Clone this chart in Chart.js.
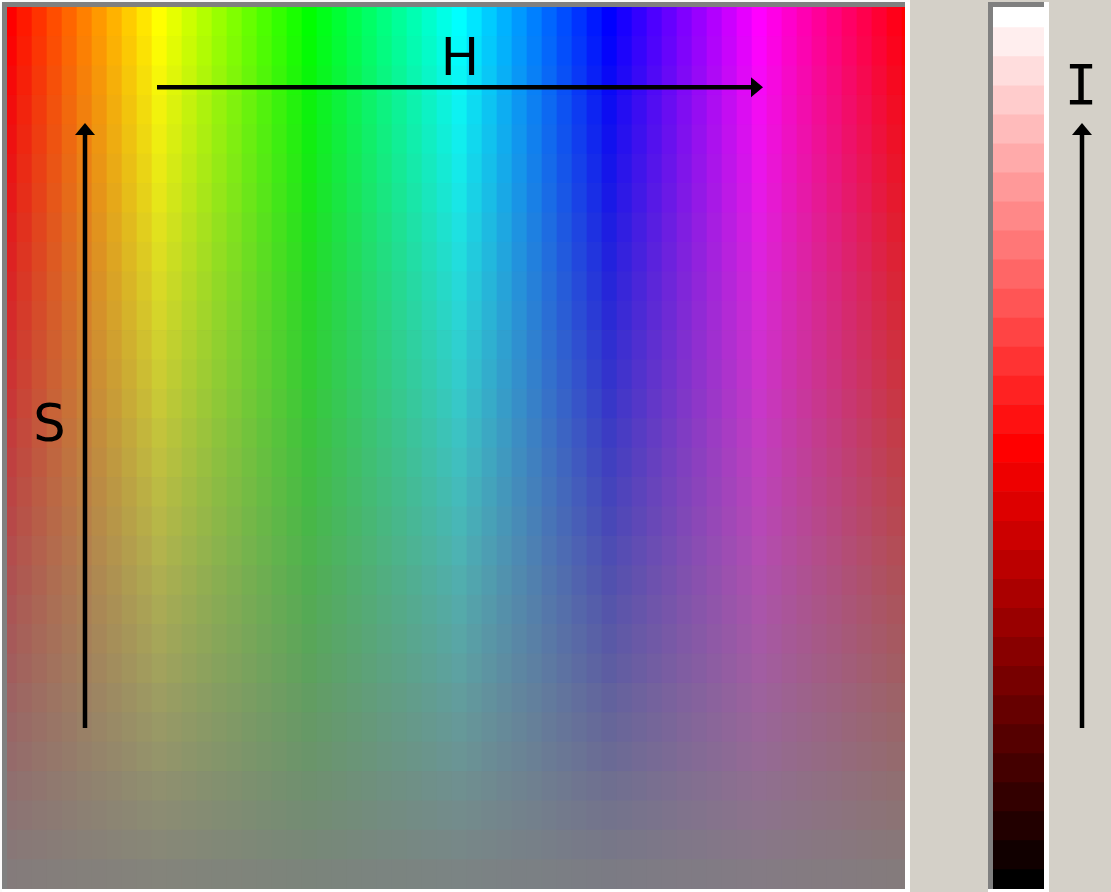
<!DOCTYPE html>
<html><head><meta charset="utf-8">
<script src="https://cdn.jsdelivr.net/npm/chart.js@4.4.1/dist/chart.umd.min.js"></script>
<style>
html,body{margin:0;padding:0;background:#fbfbfb;width:1111px;height:892px;overflow:hidden;position:relative}
.abs{position:absolute}
</style></head><body>
<div class="abs" style="left:2px;top:2px;width:903px;height:887px;background:#808080"></div>
<div class="abs" style="left:905px;top:2px;width:5px;height:890px;background:#ffffff"></div>
<div class="abs" style="left:2px;top:889px;width:908px;height:3px;background:#ffffff"></div>
<div class="abs" style="left:910px;top:0;width:201px;height:892px;background:#d4d0c8"></div>
<div class="abs" style="left:988px;top:2px;width:56px;height:887px;background:#808080"></div>
<div class="abs" style="left:1044px;top:2px;width:5px;height:890px;background:#ffffff"></div>
<div class="abs" style="left:988px;top:889px;width:61px;height:3px;background:#ffffff"></div>
<canvas id="main" class="abs" style="left:7px;top:7px" width="898" height="882"></canvas>
<canvas id="inten" class="abs" style="left:910px;top:0" width="201" height="892"></canvas>
<script>
// Hue columns (degrees)
const hues = [0,6,12,18,24,30,36,42,48,54,60,66,72,78,84,90,96,102,108,114,120,126,132,138,144,150,156,162,168,174,180,186,192,198,204,210,216,222,228,234,240,246,252,258,264,270,276,282,288,294,300,306,312,318,324,330,336,342,348,354,360];
// Saturation rows (% , top edge of each row)
const saturations = [3.33,6.67,10,13.33,16.67,20,23.33,26.67,30,33.33,36.67,40,43.33,46.67,50,53.33,56.67,60,63.33,66.67,70,73.33,76.67,80,83.33,86.67,90,93.33,96.67,100];
// Intensity steps (% lightness) of the red bar, top to bottom
const intensities = [100,96.67,93.33,90,86.67,83.33,80,76.67,73.33,70,66.67,63.33,60,56.67,53.33,50,46.67,43.33,40,36.67,33.33,30,26.67,23.33,20,16.67,13.33,10,6.67,3.33,0];
const barHue = 0;
const mainLightness = 50;
// Axis labels
const axisLabels = {hue: 'H', sat: 'S', intensity: 'I'};

const satStep = saturations[1] - saturations[0];
const intStep = intensities[0] - intensities[1];

function hsl(h, s, l) { return 'hsl(' + h + ',' + s + '%,' + l + '%)'; }

function drawArrow(ctx, x1, y1, x2, y2) {
  const ang = Math.atan2(y2 - y1, x2 - x1);
  const len = 12, half = 10;
  ctx.save();
  ctx.strokeStyle = '#000'; ctx.fillStyle = '#000'; ctx.lineWidth = 4.5;
  ctx.beginPath();
  ctx.moveTo(x1, y1);
  ctx.lineTo(x2 - Math.cos(ang) * len * 0.8, y2 - Math.sin(ang) * len * 0.8);
  ctx.stroke();
  ctx.beginPath();
  ctx.moveTo(x2, y2);
  ctx.lineTo(x2 - Math.cos(ang) * len - Math.sin(ang) * half, y2 - Math.sin(ang) * len + Math.cos(ang) * half);
  ctx.lineTo(x2 - Math.cos(ang) * len + Math.sin(ang) * half, y2 - Math.sin(ang) * len - Math.cos(ang) * half);
  ctx.closePath();
  ctx.fill();
  ctx.restore();
}

const mainDatasets = saturations.map(s => ({
  data: hues.map(h => ({x: h, y: [s - satStep, s]})),
  backgroundColor: hues.map(h => hsl(h, s, mainLightness)),
  borderWidth: 0,
  grouped: false,
  barPercentage: 1,
  categoryPercentage: 1,
  clip: 0
}));

const mainAnnot = {
  id: 'mainAnnot',
  afterDatasetsDraw(chart) {
    const ctx = chart.ctx, xs = chart.scales.x, ys = chart.scales.y;
    // H arrow
    drawArrow(ctx, xs.getPixelForValue(59), ys.getPixelForValue(90.9), xs.getPixelForValue(301.4), ys.getPixelForValue(90.9));
    // S arrow
    drawArrow(ctx, xs.getPixelForValue(30.2), ys.getPixelForValue(18.25), xs.getPixelForValue(30.2), ys.getPixelForValue(86.85));
    ctx.save();
    ctx.fillStyle = '#000';
    ctx.font = '51px "DejaVu Sans"';
    ctx.textAlign = 'center'; ctx.textBaseline = 'middle';
    ctx.fillText(axisLabels.hue, xs.getPixelForValue(180.2), ys.getPixelForValue(93.8));
    ctx.fillText(axisLabels.sat, xs.getPixelForValue(16), ys.getPixelForValue(52.3));
    ctx.restore();
  }
};

new Chart(document.getElementById('main'), {
  type: 'bar',
  data: {datasets: mainDatasets},
  options: {
    responsive: false, animation: false, events: [],
    layout: {padding: 0},
    plugins: {legend: {display: false}, tooltip: {enabled: false}},
    scales: {
      x: {type: 'linear', min: -1, max: 358.2, display: false, offset: false},
      y: {type: 'linear', min: 0, max: 100, display: false}
    }
  },
  plugins: [mainAnnot]
});

const intDatasets = intensities.map(l => ({
  data: [[l - intStep / 2, l + intStep / 2]],
  backgroundColor: hsl(barHue, 100, l),
  borderWidth: 0,
  grouped: false,
  barPercentage: 1,
  categoryPercentage: 1,
  clip: 0
}));

const intAnnot = {
  id: 'intAnnot',
  afterDatasetsDraw(chart) {
    const ctx = chart.ctx, ys = chart.scales.y, area = chart.chartArea;
    const x = area.right + 38;
    drawArrow(ctx, x, ys.getPixelForValue(17.85), x, ys.getPixelForValue(87.3));
    ctx.save();
    ctx.fillStyle = '#000';
    ctx.font = '55px "DejaVu Sans Mono"';
    ctx.textAlign = 'center'; ctx.textBaseline = 'middle';
    ctx.fillText(axisLabels.intensity, x - 1, ys.getPixelForValue(91.1));
    ctx.restore();
  }
};

new Chart(document.getElementById('inten'), {
  type: 'bar',
  data: {labels: [axisLabels.intensity], datasets: intDatasets},
  options: {
    responsive: false, animation: false, events: [],
    layout: {padding: {left: 83, right: 67, top: 7, bottom: 3}},
    plugins: {legend: {display: false}, tooltip: {enabled: false}},
    scales: {
      x: {display: false},
      y: {type: 'linear', min: -0.63, max: 100.63, display: false}
    }
  },
  plugins: [intAnnot]
});
</script>
</body></html>
